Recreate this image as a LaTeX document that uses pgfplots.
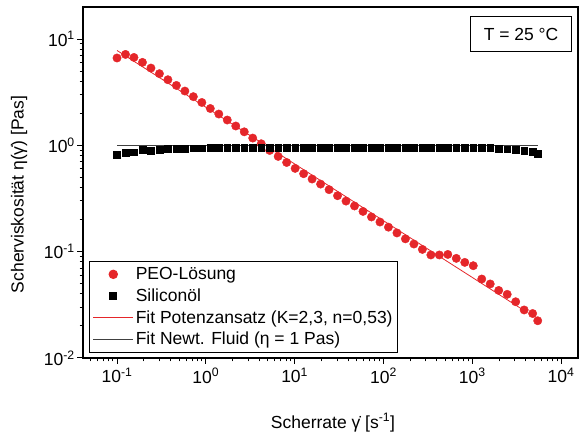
\documentclass[border=0pt]{standalone}
\usepackage{fontspec}
\setmainfont{Liberation Sans}
\usepackage{pgfplots}
\pgfplotsset{compat=1.18}
\definecolor{peored}{HTML}{E5262A}
\definecolor{fitgrey}{HTML}{404040}

\begin{document}
\begin{tikzpicture}[font=\fontsize{17.5}{21}\selectfont]
\path[use as bounding box] (0pt,0pt) rectangle (579pt,435pt);

\begin{axis}[
  at={(83pt,77pt)}, anchor=south west,
  scale only axis, width=495pt, height=351pt,
  xmode=log, ymode=log,
  xmin=0.0414, xmax=15500, ymin=0.01, ymax=20,
  axis line style={line width=1.2pt},
  tick align=outside, xtick pos=left, ytick pos=left,
  major tick length=6pt, minor tick length=3.5pt,
  every tick/.style={black, line width=1pt},
  xtick={0.1,1,10,100,1000,10000},
  xticklabels={10\textsuperscript{-1},10\textsuperscript{0},10\textsuperscript{1},
               10\textsuperscript{2},10\textsuperscript{3},10\textsuperscript{4}},
  minor xtick={0.05,0.06,0.07,0.08,0.09,0.2,0.3,0.4,0.5,0.6,0.7,0.8,0.9,
               2,3,4,5,6,7,8,9,20,30,40,50,60,70,80,90,
               200,300,400,500,600,700,800,900,2000,3000,4000,5000,6000,7000,8000,9000},
  ytick={0.01,0.1,1,10},
  yticklabels={10\textsuperscript{-2},10\textsuperscript{-1},10\textsuperscript{0},10\textsuperscript{1}},
  minor ytick={0.02,0.03,0.04,0.05,0.06,0.07,0.08,0.09,0.2,0.3,0.4,0.5,0.6,0.7,0.8,0.9,
               2,3,4,5,6,7,8,9},
  xticklabel style={inner sep=1pt, yshift=-3pt},
  yticklabel style={inner sep=1pt, xshift=-1pt},
  xlabel={Scherrate γ̇ [s\textsuperscript{-1}]},
  ylabel={Scherviskosität η(γ̇) [Pas]},
  xlabel style={at={(axis description cs:0.505,-0.200)}, anchor=base},
  ylabel style={at={(axis description cs:-0.120,0.466)}, anchor=base, rotate=0},
  legend image code/.code={\draw[mark repeat=2,mark phase=2,#1]
    plot coordinates {(0pt,0pt) (20pt,0pt) (40pt,0pt)};},
  legend style={at={(rel axis cs:0.0127,0.015)}, anchor=south west,
    draw=black, line width=1pt, inner xsep=3pt, inner ysep=4pt,
    row sep=3.5pt, font=\fontsize{17.5}{21}\selectfont},
  legend cell align=left,
]

% PEO-Loesung
\addplot[only marks, mark=*, mark size=4.2pt, color=peored] coordinates {
  (0.1,6.63) (0.1246,7.16) (0.1552,6.71) (0.1934,6.03) (0.2410,5.33)
  (0.3003,4.72) (0.3741,4.14) (0.4661,3.66) (0.5808,3.24) (0.7236,2.87)
  (0.9016,2.53) (1.123,2.22) (1.400,1.97) (1.744,1.73) (2.173,1.52)
  (2.707,1.34) (3.373,1.17) (4.203,1.035) (5.236,0.895) (6.525,0.787)
  (8.128,0.690) (10.13,0.607) (12.62,0.541) (15.72,0.482) (19.59,0.432)
  (24.41,0.383) (30.41,0.336) (37.89,0.299) (47.21,0.269) (58.83,0.239)
  (73.28,0.212) (91.31,0.190) (113.8,0.170) (141.8,0.150) (176.6,0.132)
  (220.1,0.118) (274.2,0.105) (341.7,0.0931) (425.6,0.0931) (530.3,0.0942)
  (660.7,0.0865) (823.3,0.0793) (1026,0.0738) (1278,0.0553) (1592,0.0497)
  (1984,0.0432) (2472,0.0397) (3080,0.0338) (3837,0.0283) (4781,0.0262)
  (5458,0.0224)};
\addlegendentry{PEO-Lösung}

% Siliconoel
\addplot[only marks, mark=square*, mark size=3.4pt, color=black] coordinates {
  (0.1,0.821) (0.1246,0.851) (0.1552,0.863) (0.1934,0.902) (0.2410,0.895)
  (0.3003,0.915) (0.3741,0.935) (0.4661,0.929) (0.5808,0.935) (0.7236,0.941)
  (0.9016,0.941) (1.123,0.949) (1.400,0.955) (1.744,0.955) (2.173,0.952)
  (2.707,0.952) (3.373,0.952) (4.203,0.952) (5.236,0.955) (6.525,0.955)
  (8.128,0.955) (10.13,0.955) (12.62,0.955) (15.72,0.955) (19.59,0.955)
  (24.41,0.955) (30.41,0.955) (37.89,0.955) (47.21,0.955) (58.83,0.955)
  (73.28,0.955) (91.31,0.955) (113.8,0.955) (141.8,0.955) (176.6,0.955)
  (220.1,0.955) (274.2,0.955) (341.7,0.955) (425.6,0.955) (530.3,0.955)
  (660.7,0.955) (823.3,0.952) (1026,0.952) (1278,0.949) (1592,0.949)
  (1984,0.935) (2472,0.921) (3080,0.909) (3837,0.890) (4781,0.871)
  (5458,0.834)};
\addlegendentry{Siliconöl}

% Fit Potenzansatz
\addplot[peored, line width=0.8pt] coordinates {(0.1,7.8) (3600,0.0289)};
\addlegendentry{Fit Potenzansatz (K=2,3, n=0,53)}

% Fit Newtonsches Fluid
\addplot[fitgrey, line width=1pt] coordinates {(0.1,1) (5458,1)};
\addlegendentry{Fit Newt. Fluid (η = 1 Pas)}

\node[draw=black, line width=1pt, minimum width=101pt, minimum height=35.7pt,
      inner sep=0pt] at (rel axis cs:0.885,0.923) {T = 25 °C};
\end{axis}
\end{tikzpicture}
\end{document}
